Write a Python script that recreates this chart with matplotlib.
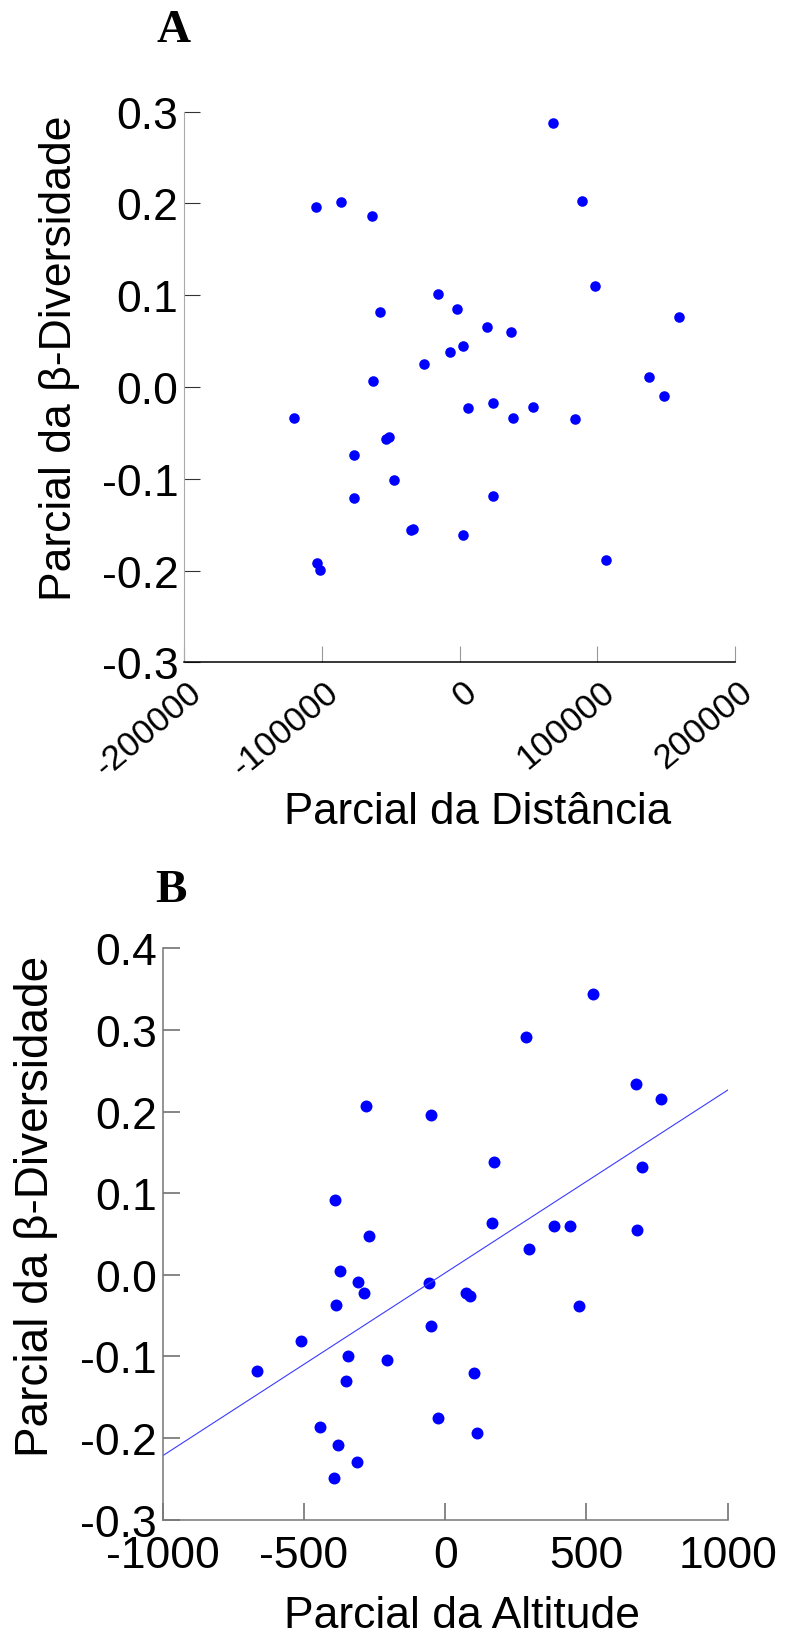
import matplotlib
matplotlib.use('Agg')
import matplotlib.pyplot as plt
from matplotlib.transforms import ScaledTranslation

plt.rcParams['font.family'] = ['Liberation Sans', 'DejaVu Sans']

# Panel A: partial distance vs partial beta diversity
dist_x = [68100, -104400, -86100, -63400, 89000, 98500, -15750, -1465, -57900,
          159000, 20150, 37360, 2200, -6600, -26000, -62600, 137700, 148700,
          5860, 24200, 53100, 38500, 83500, -119800, -53000, -51000, -76600,
          -47600, -76600, 24200, -35500, -34000, 2200, -103300, -101100, 106200]
dist_y = [0.288, 0.1957, 0.2018, 0.1866, 0.2029, 0.1105, 0.1014, 0.0855, 0.0812,
          0.0768, 0.0656, 0.0598, 0.0442, 0.0384, 0.0254, 0.0065, 0.0105, -0.0098,
          -0.0225, -0.0174, -0.0217, -0.0337, -0.0348, -0.0333, -0.0570, -0.0550,
          -0.0746, -0.1018, -0.1207, -0.1185, -0.1560, -0.1550, -0.1612, -0.1913,
          -0.1996, -0.1888]

# Panel B: partial altitude vs partial beta diversity
alt_x = [523, 287.5, 675, 764, -280, -52, 173, 695, -389, 166, 386, 441, 677,
         -271, 298, -371, -309, -287.5, -59, 73, 86, -387.5, 473, -52, -511,
         -343, -207, -666, 103.5, -352, -443, -27, 111, -379, -311, -395]
alt_y = [0.344, 0.2916, 0.2337, 0.2158, 0.2072, 0.1954, 0.1383, 0.1322, 0.0914,
         0.0629, 0.0592, 0.0592, 0.0547, 0.047, 0.0311, 0.0041, -0.0082, -0.0225,
         -0.0106, -0.0225, -0.0254, -0.0364, -0.038, -0.063, -0.0806, -0.0998,
         -0.1043, -0.1174, -0.1202, -0.1305, -0.1865, -0.1759, -0.1935, -0.2086,
         -0.2299, -0.2491]
fit_x = [-1000, 1000]
fit_y = [-0.2217, 0.2264]

xticks_a = [-200000, -100000, 0, 100000, 200000]
yticks_a = [-0.3, -0.2, -0.1, 0.0, 0.1, 0.2, 0.3]
xticks_b = [-1000, -500, 0, 500, 1000]
yticks_b = [-0.3, -0.2, -0.1, 0.0, 0.1, 0.2, 0.3, 0.4]

W, H = 792, 1633
fig = plt.figure(figsize=(W / 100, H / 100), dpi=100)


def box(left, top, right, bottom):
    return [left / W, 1 - bottom / H, (right - left) / W, (bottom - top) / H]


# ---------------- Panel A ----------------
ax1 = fig.add_axes(box(184, 112.7, 735, 663.3))
ax1.plot(dist_x, dist_y, 'o', color='#0000ff', markersize=7.6, markeredgewidth=0)
ax1.set_xlim(-200000, 200000)
ax1.set_ylim(-0.3, 0.3)
ax1.set_yticks(yticks_a, [f'{v:.1f}' for v in yticks_a])
ax1.set_xticks(xticks_a, [str(v) for v in xticks_a])
for s in ['top', 'right']:
    ax1.spines[s].set_visible(False)
ax1.spines['left'].set_color('#aaaaaa')
ax1.spines['left'].set_linewidth(0.8)
ax1.spines['bottom'].set_color('black')
ax1.spines['bottom'].set_linewidth(1.1)
ax1.tick_params(axis='y', direction='in', length=11.5, width=0.8, color='#333333',
                pad=4, labelsize=32)
ax1.tick_params(axis='x', direction='in', length=11.5, width=0.8, color='#999999',
                pad=18, labelsize=25)
offset = ScaledTranslation(13 / 100, 0, fig.dpi_scale_trans)
for lab in ax1.get_xticklabels():
    lab.set_rotation(40)
    lab.set_ha('right')
    lab.set_va('center')
    lab.set_rotation_mode('anchor')
    lab.set_transform(lab.get_transform() + offset)

fig.text(60 / W, 1 - 358 / H, 'Parcial da β-Diversidade', rotation=90,
         ha='center', va='center', fontsize=32)
fig.text(478 / W, 1 - 824 / H, 'Parcial da Distância', ha='center',
         va='baseline', fontsize=31.5)
fig.text(174 / W, 1 - 41.7 / H, 'A', ha='center', va='baseline', fontsize=34,
         fontweight='bold', family='Liberation Serif')

# ---------------- Panel B ----------------
ax2 = fig.add_axes(box(162.6, 949.3, 727.8, 1520.7))
ax2.plot(alt_x, alt_y, 'o', color='#0000ff', markersize=8.6, markeredgewidth=0)
ax2.plot(fit_x, fit_y, '-', color='#3b3bff', linewidth=0.8)
ax2.set_xlim(-1000, 1000)
ax2.set_ylim(-0.3, 0.4)
ax2.set_yticks(yticks_b, [f'{v:.1f}' for v in yticks_b])
ax2.set_xticks(xticks_b, [str(v) for v in xticks_b])
for s in ['top', 'right']:
    ax2.spines[s].set_visible(False)
for s in ['left', 'bottom']:
    ax2.spines[s].set_color('#777777')
    ax2.spines[s].set_linewidth(1.1)
ax2.tick_params(axis='both', direction='in', length=12, width=1.1, color='#666666',
                labelsize=32)
ax2.tick_params(axis='y', pad=4)
ax2.tick_params(axis='x', pad=11)

fig.text(36 / W, 1 - 1206 / H, 'Parcial da β-Diversidade', rotation=90,
         ha='center', va='center', fontsize=33)
fig.text(462 / W, 1 - 1628 / H, 'Parcial da Altitude', ha='center',
         va='baseline', fontsize=32)
fig.text(171 / W, 1 - 901.7 / H, 'B', ha='center', va='baseline', fontsize=34,
         fontweight='bold', family='Liberation Serif')

fig.savefig('out.png', dpi=100)
